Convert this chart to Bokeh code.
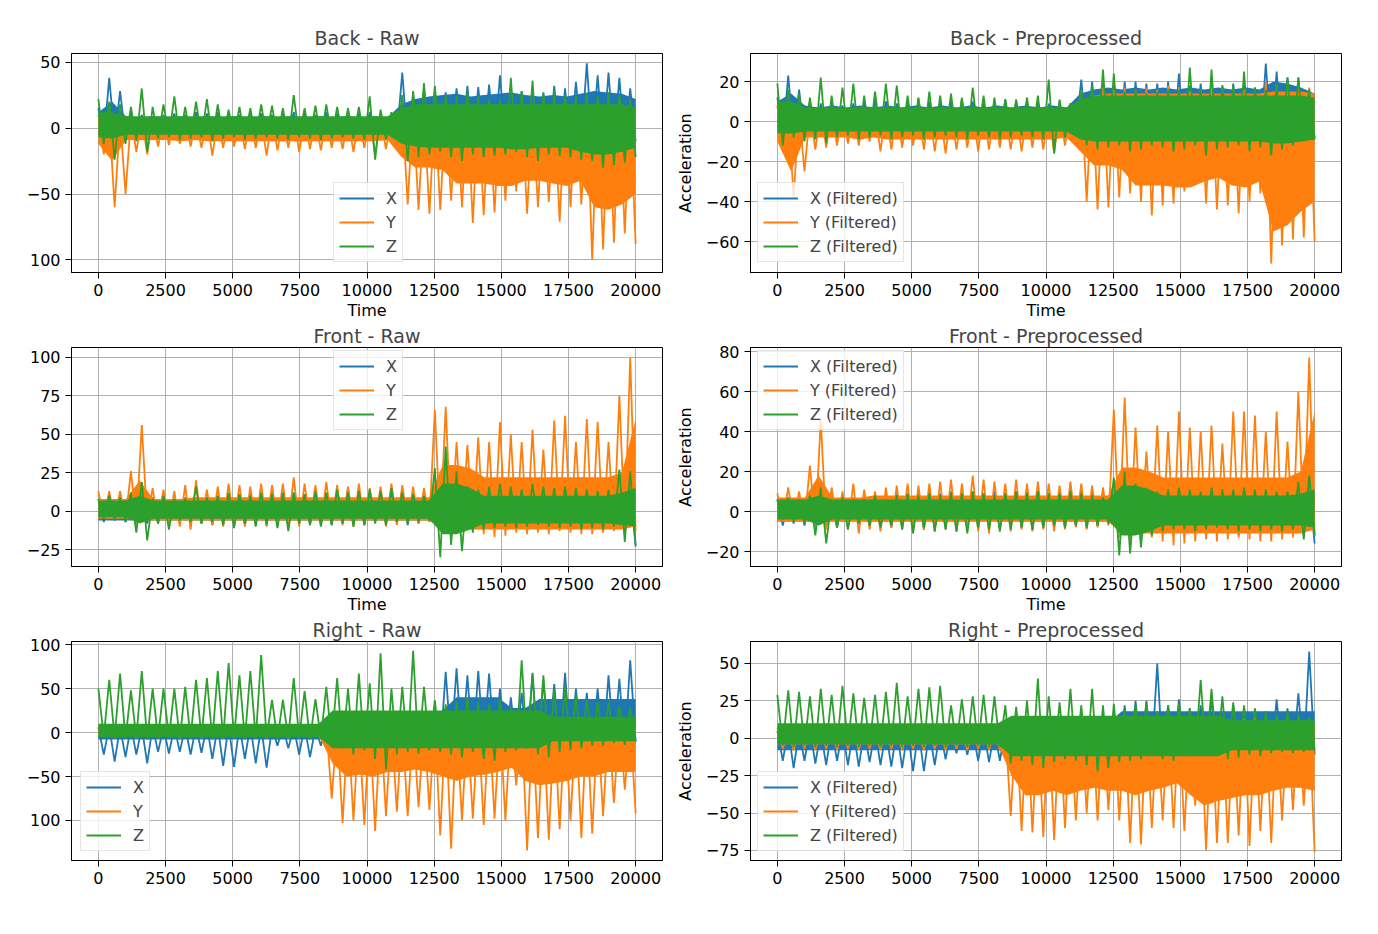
import numpy as np
from bokeh.plotting import figure
from bokeh.layouts import column, row
from bokeh.models import FixedTicker, Legend, LegendItem
from bokeh.embed import file_html
from bokeh.resources import INLINE

# sample times: 50 bins of 400 for the peaks/troughs, 40 steps for the dense core
time = np.linspace(0, 20000, 100)
core_time = np.linspace(0, 20000, 40)
time_ticks = [0, 2500, 5000, 7500, 10000, 12500, 15000, 17500, 20000]

# ---- Back - Raw ----
back_raw_x_hi = [15, 38, 28, 12, 10, 9, 10, 11, 10, 12,
                 11, 12, 11, 10, 12, 11, 10, 11, 12, 11,
                 10, 12, 11, 10, 11, 12, 11, 10, 42, 25,
                 30, 28, 27, 30, 32, 31, 33, 40, 25, 28,
                 30, 27, 32, 30, 35, 49, 40, 42, 38, 30]
back_raw_x_lo = [-10, -8, -7, -6, -7, -6, -7, -6, -7, -6,
                 -7, -6, -7, -6, -7, -6, -7, -6, -7, -6,
                 -7, -6, -7, -6, -7, -6, -7, -6, -12, -14,
                 -12, -13, -11, -12, -14, -12, -13, -11, -12, -13,
                 -12, -14, -12, -13, -11, -12, -14, -13, -12, -10]
back_raw_y_hi = [10, 8, 8, 7, 8, 7, 8, 7, 8, 7,
                 8, 7, 8, 7, 8, 7, 8, 7, 8, 7,
                 8, 7, 8, 7, 8, 7, 8, 7, 15, 16,
                 15, 14, 15, 16, 15, 16, 15, 14, 16, 15,
                 16, 15, 15, 17, 18, 20, 19, 22, 21, 17]
back_raw_y_lo = [-20, -60, -50, -18, -20, -14, -13, -12, -14, -15,
                 -21, -15, -14, -16, -15, -21, -17, -15, -18, -16,
                 -17, -15, -16, -18, -15, -20, -16, -14, -58, -62,
                 -65, -62, -55, -60, -72, -66, -64, -55, -48, -65,
                 -60, -56, -71, -60, -58, -100, -92, -87, -80, -88]
back_raw_z_hi = [22, 20, 18, 16, 30, 16, 18, 24, 16, 20,
                 22, 18, 14, 16, 15, 18, 17, 15, 25, 15,
                 17, 18, 16, 15, 16, 24, 14, 12, 25, 28,
                 34, 32, 25, 24, 27, 24, 22, 22, 38, 28,
                 36, 26, 28, 25, 24, 26, 24, 27, 25, 22]
back_raw_z_lo = [-12, -24, -12, -10, -18, -8, -7, -9, -8, -7,
                 -10, -8, -7, -9, -8, -7, -8, -9, -7, -8,
                 -9, -8, -7, -8, -9, -24, -9, -8, -25, -22,
                 -20, -18, -22, -25, -20, -22, -21, -20, -18, -22,
                 -25, -20, -21, -22, -24, -25, -30, -28, -26, -22]
back_raw_x_core_hi = [12, 20, 9, 8, 9, 8, 9, 8, 9, 8,
                      9, 8, 9, 8, 9, 8, 9, 8, 9, 8,
                      9, 8, 18, 22, 24, 25, 26, 24, 25, 26,
                      27, 25, 24, 25, 24, 26, 28, 27, 26, 22]
back_raw_x_core_lo = [-5, -6, -4, -4, -4, -4, -4, -4, -4, -4,
                      -4, -4, -4, -4, -4, -4, -4, -4, -4, -4,
                      -4, -4, -8, -10, -10, -10, -10, -10, -10, -10,
                      -10, -10, -10, -10, -10, -10, -10, -10, -10, -8]
back_raw_y_core_hi = [6, 6, 4, 4, 4, 4, 4, 4, 4, 4,
                      4, 4, 4, 4, 4, 4, 4, 4, 4, 4,
                      4, 4, 10, 12, 12, 12, 12, 12, 12, 12,
                      12, 12, 12, 12, 12, 14, 15, 15, 15, 14]
back_raw_y_core_lo = [-12, -25, -9, -9, -9, -9, -10, -9, -10, -10,
                      -10, -10, -10, -10, -10, -10, -10, -10, -10, -10,
                      -10, -9, -22, -30, -30, -32, -42, -42, -42, -44,
                      -44, -40, -40, -42, -44, -40, -60, -62, -58, -50]
back_raw_z_core_hi = [12, 12, 9, 9, 9, 9, 9, 9, 9, 9,
                      9, 9, 9, 9, 9, 9, 9, 9, 9, 9,
                      9, 9, 15, 18, 18, 18, 18, 18, 18, 18,
                      18, 18, 18, 18, 18, 18, 18, 18, 18, 16]
back_raw_z_core_lo = [-7, -8, -5, -5, -5, -5, -5, -5, -5, -5,
                      -5, -5, -5, -5, -5, -5, -5, -5, -5, -5,
                      -5, -5, -12, -14, -15, -15, -15, -15, -15, -15,
                      -16, -16, -15, -15, -15, -18, -20, -20, -18, -15]

# ---- Back - Preprocessed ----
back_pre_x_hi = [12, 23, 16, 10, 9, 10, 8, 9, 10, 11,
                 10, 9, 10, 11, 10, 9, 10, 11, 10, 9,
                 10, 11, 10, 9, 10, 9, 10, 9, 21, 20,
                 19, 18, 20, 20, 19, 19, 20, 24, 18, 19,
                 20, 18, 19, 18, 17, 29, 25, 22, 22, 16]
back_pre_x_lo = [-9, -8, -7, -6, -8, -7, -6, -7, -8, -7,
                 -6, -7, -8, -7, -6, -7, -8, -7, -6, -7,
                 -8, -7, -6, -7, -8, -12, -7, -6, -10, -11,
                 -10, -12, -11, -10, -12, -11, -10, -12, -11, -10,
                 -12, -11, -10, -12, -11, -10, -12, -11, -10, -8]
back_pre_y_hi = [8, 6, 6, 5, 6, 5, 6, 5, 6, 5,
                 6, 5, 6, 5, 6, 5, 6, 5, 6, 5,
                 6, 5, 6, 5, 6, 5, 6, 5, 15, 16,
                 17, 16, 17, 16, 17, 16, 18, 17, 15, 16,
                 17, 16, 17, 16, 15, 20, 18, 18, 19, 17]
back_pre_y_lo = [-15, -38, -25, -14, -13, -12, -11, -12, -10, -15,
                 -14, -13, -12, -14, -15, -16, -14, -13, -15, -14,
                 -13, -14, -15, -13, -14, -16, -12, -10, -40, -44,
                 -43, -38, -36, -40, -47, -42, -41, -35, -30, -41,
                 -44, -42, -46, -40, -36, -71, -62, -59, -58, -60]
back_pre_z_hi = [19, 16, 14, 12, 22, 13, 17, 19, 13, 15,
                 19, 18, 13, 12, 15, 13, 14, 12, 17, 13,
                 12, 11, 11, 12, 13, 21, 11, 9, 15, 18,
                 26, 24, 15, 16, 14, 15, 16, 16, 27, 16,
                 26, 18, 18, 25, 17, 16, 19, 22, 22, 16]
back_pre_z_lo = [-12, -8, -10, -9, -11, -8, -7, -9, -8, -7,
                 -9, -8, -7, -9, -8, -7, -8, -9, -7, -8,
                 -9, -8, -7, -8, -9, -16, -8, -7, -12, -14,
                 -13, -12, -15, -14, -12, -13, -15, -14, -12, -17,
                 -14, -13, -12, -15, -13, -17, -14, -12, -10, -9]
back_pre_x_core_hi = [10, 14, 8, 7, 8, 7, 8, 7, 8, 7,
                      8, 7, 8, 7, 8, 7, 8, 7, 8, 7,
                      8, 7, 14, 16, 17, 16, 17, 16, 17, 16,
                      17, 16, 17, 16, 17, 16, 20, 19, 17, 14]
back_pre_x_core_lo = [-5, -5, -4, -4, -4, -4, -4, -4, -4, -4,
                      -4, -4, -4, -4, -4, -4, -4, -4, -4, -4,
                      -4, -4, -7, -8, -8, -8, -8, -8, -8, -8,
                      -8, -8, -8, -8, -8, -8, -8, -8, -8, -6]
back_pre_y_core_hi = [5, 5, 4, 4, 4, 4, 4, 4, 4, 4,
                      4, 4, 4, 4, 4, 4, 4, 4, 4, 4,
                      4, 4, 10, 13, 14, 14, 14, 14, 14, 14,
                      14, 14, 14, 14, 14, 14, 15, 15, 15, 14]
back_pre_y_core_lo = [-10, -25, -8, -8, -8, -8, -9, -8, -9, -9,
                      -9, -9, -9, -9, -9, -9, -9, -9, -9, -9,
                      -9, -8, -15, -22, -22, -24, -32, -32, -32, -33,
                      -33, -30, -28, -32, -33, -30, -55, -52, -45, -40]
back_pre_z_core_hi = [10, 10, 7, 7, 7, 7, 7, 7, 7, 7,
                      7, 7, 7, 7, 7, 7, 7, 7, 7, 7,
                      7, 7, 11, 13, 13, 13, 13, 13, 13, 13,
                      13, 13, 13, 13, 13, 13, 13, 13, 13, 12]
back_pre_z_core_lo = [-6, -6, -5, -5, -5, -5, -5, -5, -5, -5,
                      -5, -5, -5, -5, -5, -5, -5, -5, -5, -5,
                      -5, -5, -9, -10, -10, -10, -10, -10, -10, -10,
                      -10, -10, -10, -10, -10, -10, -11, -11, -10, -9]

# ---- Front - Raw ----
front_raw_x_hi = [8, 8, 7, 9, 8, 9, 10, 8, 9, 8,
                  9, 10, 9, 10, 11, 10, 12, 11, 12, 11,
                  13, 12, 14, 15, 13, 12, 13, 12, 11, 10,
                  9, 14, 15, 14, 13, 12, 13, 14, 13, 12,
                  13, 12, 13, 12, 13, 12, 13, 12, 14, 15]
front_raw_x_lo = [-7, -6, -7, -6, -8, -8, -7, -6, -7, -8,
                  -9, -8, -9, -9, -8, -8, -9, -8, -8, -9,
                  -8, -9, -8, -8, -9, -7, -8, -8, -9, -8,
                  -7, -10, -12, -13, -12, -10, -11, -12, -10, -9,
                  -11, -12, -10, -11, -12, -10, -11, -12, -13, -23]
front_raw_y_hi = [13, 13, 13, 26, 56, 15, 14, 13, 17, 20,
                  14, 16, 18, 17, 16, 18, 17, 18, 22, 18,
                  17, 19, 17, 16, 18, 15, 16, 18, 17, 16,
                  15, 66, 68, 45, 43, 48, 45, 58, 50, 45,
                  53, 40, 59, 62, 45, 60, 58, 45, 75, 100]
front_raw_y_lo = [-5, -5, -6, -8, -6, -7, -8, -10, -12, -8,
                  -9, -10, -9, -10, -9, -10, -8, -9, -10, -8,
                  -9, -8, -9, -10, -9, -8, -10, -9, -8, -8,
                  -7, -12, -14, -13, -12, -15, -17, -16, -14, -15,
                  -14, -15, -13, -14, -15, -15, -14, -13, -12, -13]
front_raw_z_hi = [8, 10, 9, 12, 19, 8, 10, 8, 8, 16,
                  9, 10, 12, 11, 10, 12, 11, 12, 12, 11,
                  13, 12, 14, 12, 13, 14, 13, 15, 12, 11,
                  10, 28, 42, 26, 16, 14, 16, 18, 16, 14,
                  18, 16, 15, 16, 15, 14, 13, 14, 27, 26]
front_raw_z_lo = [-5, -6, -7, -14, -19, -8, -12, -6, -7, -8,
                  -7, -9, -11, -8, -10, -9, -11, -13, -8, -9,
                  -10, -9, -8, -10, -9, -8, -9, -7, -8, -7,
                  -6, -30, -22, -26, -14, -12, -11, -10, -11, -10,
                  -9, -10, -11, -10, -12, -11, -12, -10, -20, -22]
front_raw_x_core_hi = [5, 5, 5, 5, 5, 5, 5, 5, 5, 5,
                       5, 5, 5, 5, 5, 5, 5, 5, 5, 5,
                       5, 5, 5, 5, 5, 9, 9, 9, 9, 9,
                       9, 9, 9, 9, 9, 9, 9, 9, 9, 9]
front_raw_x_core_lo = [-6, -6, -6, -6, -6, -6, -6, -6, -6, -6,
                       -6, -6, -6, -6, -6, -6, -6, -6, -6, -6,
                       -6, -6, -6, -6, -6, -9, -9, -9, -9, -9,
                       -9, -9, -9, -9, -9, -9, -9, -9, -9, -9]
front_raw_y_core_hi = [8, 8, 8, 20, 8, 8, 8, 9, 9, 9,
                       9, 9, 9, 9, 9, 9, 9, 9, 9, 9,
                       9, 9, 9, 9, 9, 30, 30, 28, 22, 22,
                       22, 22, 22, 22, 22, 22, 22, 22, 25, 60]
front_raw_y_core_lo = [-5, -5, -5, -6, -6, -6, -6, -6, -6, -6,
                       -6, -6, -6, -6, -6, -6, -6, -6, -6, -6,
                       -6, -6, -6, -6, -6, -12, -12, -12, -12, -12,
                       -12, -12, -12, -12, -12, -12, -12, -12, -12, -10]
front_raw_z_core_hi = [7, 7, 7, 10, 7, 7, 7, 7, 7, 7,
                       7, 7, 7, 7, 7, 7, 7, 7, 7, 7,
                       7, 7, 7, 7, 7, 18, 18, 15, 10, 10,
                       10, 10, 10, 10, 10, 10, 10, 10, 12, 15]
front_raw_z_core_lo = [-4, -4, -4, -8, -5, -5, -5, -5, -5, -5,
                       -5, -5, -5, -5, -5, -5, -5, -5, -5, -5,
                       -5, -5, -5, -5, -5, -15, -15, -12, -8, -8,
                       -8, -8, -8, -8, -8, -8, -8, -8, -9, -10]

# ---- Front - Preprocessed ----
front_pre_x_hi = [6, 6, 5, 7, 6, 7, 8, 7, 8, 7,
                  8, 9, 8, 9, 10, 9, 10, 9, 10, 9,
                  10, 9, 10, 11, 10, 9, 10, 11, 10, 9,
                  8, 10, 11, 12, 11, 10, 11, 12, 11, 10,
                  11, 12, 11, 10, 11, 12, 11, 10, 11, 12]
front_pre_x_lo = [-7, -6, -7, -6, -7, -8, -7, -6, -7, -8,
                  -8, -7, -8, -9, -8, -7, -8, -9, -8, -7,
                  -8, -7, -8, -9, -8, -7, -8, -7, -8, -7,
                  -6, -10, -12, -11, -10, -11, -12, -10, -11, -12,
                  -10, -11, -12, -10, -11, -12, -10, -11, -12, -16]
front_pre_y_hi = [9, 12, 10, 23, 46, 12, 10, 14, 11, 10,
                  12, 13, 14, 13, 14, 15, 16, 14, 18, 16,
                  15, 14, 16, 14, 15, 14, 13, 15, 14, 13,
                  12, 51, 57, 42, 30, 43, 40, 50, 42, 40,
                  43, 34, 50, 50, 48, 40, 50, 35, 60, 77]
front_pre_y_lo = [-5, -5, -6, -8, -9, -7, -8, -11, -9, -10,
                  -8, -9, -10, -9, -10, -9, -10, -9, -10, -11,
                  -9, -10, -9, -10, -9, -10, -9, -8, -9, -8,
                  -7, -13, -14, -12, -13, -15, -17, -16, -15, -14,
                  -15, -14, -13, -14, -15, -15, -14, -13, -11, -12]
front_pre_z_hi = [6, 7, 6, 8, 12, 6, 7, 6, 6, 8,
                  6, 8, 9, 8, 9, 8, 9, 9, 10, 9,
                  8, 9, 10, 9, 10, 9, 9, 10, 9, 8,
                  7, 17, 20, 14, 12, 10, 11, 12, 11, 10,
                  12, 11, 11, 12, 11, 11, 10, 10, 15, 18]
front_pre_z_lo = [-4, -5, -6, -12, -16, -8, -9, -6, -7, -8,
                  -7, -9, -11, -8, -10, -9, -10, -11, -8, -9,
                  -10, -9, -8, -9, -8, -7, -8, -7, -8, -7,
                  -6, -22, -21, -18, -12, -10, -9, -9, -10, -9,
                  -8, -9, -10, -9, -10, -9, -10, -9, -14, -12]
front_pre_x_core_hi = [5, 5, 5, 5, 5, 5, 5, 5, 5, 5,
                       5, 5, 5, 5, 5, 5, 5, 5, 5, 5,
                       5, 5, 5, 5, 5, 8, 8, 8, 8, 8,
                       8, 8, 8, 8, 8, 8, 8, 8, 8, 8]
front_pre_x_core_lo = [-5, -5, -5, -5, -5, -5, -5, -5, -5, -5,
                       -5, -5, -5, -5, -5, -5, -5, -5, -5, -5,
                       -5, -5, -5, -5, -5, -8, -8, -8, -8, -8,
                       -8, -8, -8, -8, -8, -8, -8, -8, -8, -8]
front_pre_y_core_hi = [7, 7, 7, 18, 7, 7, 7, 8, 8, 8,
                       8, 8, 8, 8, 8, 8, 8, 8, 8, 8,
                       8, 8, 8, 8, 8, 22, 22, 20, 17, 17,
                       17, 17, 17, 17, 17, 17, 17, 17, 20, 50]
front_pre_y_core_lo = [-5, -5, -5, -5, -5, -5, -5, -5, -5, -5,
                       -5, -5, -5, -5, -5, -5, -5, -5, -5, -5,
                       -5, -5, -5, -5, -5, -11, -11, -11, -11, -11,
                       -11, -11, -11, -11, -11, -11, -11, -11, -11, -9]
front_pre_z_core_hi = [6, 6, 6, 8, 6, 6, 6, 6, 6, 6,
                       6, 6, 6, 6, 6, 6, 6, 6, 6, 6,
                       6, 6, 6, 6, 6, 13, 13, 11, 8, 8,
                       8, 8, 8, 8, 8, 8, 8, 8, 9, 11]
front_pre_z_core_lo = [-4, -4, -4, -7, -4, -4, -4, -4, -4, -4,
                       -4, -4, -4, -4, -4, -4, -4, -4, -4, -4,
                       -4, -4, -4, -4, -4, -12, -12, -10, -7, -7,
                       -7, -7, -7, -7, -7, -7, -7, -7, -7, -8]

# ---- Right - Raw ----
right_raw_x_hi = [6, 7, 6, 7, 6, 7, 6, 7, 6, 7,
                  8, 7, 8, 7, 8, 7, 6, 7, 6, 7,
                  6, 8, 18, 20, 22, 20, 18, 20, 22, 20,
                  22, 25, 69, 73, 65, 70, 67, 50, 40, 45,
                  68, 60, 55, 68, 50, 45, 50, 65, 61, 82]
right_raw_x_lo = [-25, -33, -28, -25, -35, -22, -24, -22, -25, -23,
                  -30, -38, -39, -30, -35, -40, -15, -18, -25, -28,
                  -15, -10, -15, -18, -20, -18, -15, -18, -20, -15,
                  -18, -20, -15, -18, -20, -15, -18, -20, -15, -18,
                  -20, -15, -18, -20, -15, -18, -20, -15, -18, -10]
right_raw_y_hi = [6, 5, 6, 5, 6, 5, 6, 5, 6, 5,
                  6, 5, 6, 5, 6, 5, 6, 5, 6, 5,
                  6, 8, 10, 12, 11, 12, 13, 12, 11, 12,
                  13, 12, 14, 13, 12, 14, 15, 14, 13, 15,
                  14, 13, 15, 14, 13, 15, 14, 13, 15, 12]
right_raw_y_lo = [-5, -6, -5, -6, -5, -6, -5, -6, -5, -6,
                  -5, -6, -5, -6, -5, -6, -5, -6, -5, -6,
                  -8, -75, -103, -100, -105, -112, -95, -90, -95, -85,
                  -88, -117, -132, -100, -98, -105, -98, -100, -60, -134,
                  -120, -122, -110, -100, -120, -115, -95, -80, -65, -92]
right_raw_z_hi = [50, 60, 67, 48, 70, 50, 50, 50, 52, 60,
                  62, 70, 79, 65, 70, 88, 37, 37, 62, 47,
                  38, 52, 62, 50, 67, 56, 90, 50, 52, 93,
                  52, 37, 32, 35, 40, 35, 32, 38, 28, 82,
                  66, 65, 48, 53, 42, 38, 35, 35, 30, 28]
right_raw_z_lo = [-5, -6, -7, -6, -8, -7, -6, -8, -7, -6,
                  -8, -7, -6, -8, -7, -6, -8, -7, -6, -8,
                  -7, -12, -18, -25, -20, -30, -42, -25, -22, -24,
                  -20, -22, -25, -28, -22, -30, -32, -22, -20, -18,
                  -25, -28, -22, -20, -18, -15, -15, -12, -14, -10]
right_raw_x_core_hi = [4, 4, 4, 4, 4, 4, 4, 4, 4, 4,
                       4, 4, 4, 4, 4, 4, 4, 12, 20, 20,
                       20, 20, 20, 20, 20, 25, 40, 40, 40, 40,
                       28, 28, 38, 38, 38, 38, 38, 38, 38, 38]
right_raw_x_core_lo = [-8, -8, -8, -8, -8, -8, -8, -8, -8, -8,
                       -8, -8, -8, -8, -8, -8, -8, -12, -12, -12,
                       -12, -12, -12, -12, -12, -12, -12, -12, -12, -12,
                       -12, -12, -12, -12, -12, -12, -12, -12, -12, -12]
right_raw_y_core_hi = [4, 4, 4, 4, 4, 4, 4, 4, 4, 4,
                       4, 4, 4, 4, 4, 4, 4, 10, 10, 10,
                       10, 10, 10, 10, 10, 10, 10, 10, 10, 10,
                       10, 10, 10, 10, 10, 10, 10, 10, 10, 10]
right_raw_y_core_lo = [-4, -4, -4, -4, -4, -4, -4, -4, -4, -4,
                       -4, -4, -4, -4, -4, -4, -4, -35, -50, -48,
                       -50, -45, -45, -42, -45, -50, -55, -50, -48, -45,
                       -40, -55, -60, -58, -55, -50, -50, -45, -45, -45]
right_raw_z_core_hi = [10, 10, 10, 10, 10, 10, 10, 10, 10, 10,
                       10, 10, 10, 10, 10, 10, 10, 25, 25, 25,
                       25, 25, 25, 25, 25, 25, 25, 25, 25, 25,
                       25, 25, 25, 18, 18, 18, 18, 18, 18, 18]
right_raw_z_core_lo = [-5, -5, -5, -5, -5, -5, -5, -5, -5, -5,
                       -5, -5, -5, -5, -5, -5, -5, -18, -18, -18,
                       -18, -18, -18, -18, -18, -18, -18, -18, -18, -18,
                       -18, -18, -18, -10, -10, -10, -10, -10, -10, -10]

# ---- Right - Preprocessed ----
right_pre_x_hi = [5, 6, 5, 6, 5, 6, 5, 6, 5, 6,
                  5, 6, 5, 6, 5, 6, 5, 6, 5, 6,
                  5, 6, 10, 12, 11, 12, 10, 12, 11, 12,
                  13, 12, 22, 25, 25, 50, 22, 26, 20, 22,
                  27, 18, 22, 18, 16, 18, 26, 20, 30, 58]
right_pre_x_lo = [-15, -20, -15, -17, -18, -15, -18, -19, -16, -18,
                  -19, -20, -22, -22, -18, -14, -10, -11, -15, -16,
                  -15, -13, -12, -14, -12, -14, -12, -14, -12, -14,
                  -12, -14, -12, -14, -12, -14, -12, -14, -12, -14,
                  -12, -14, -12, -14, -12, -14, -12, -14, -12, -11]
right_pre_y_hi = [7, 6, 7, 6, 7, 6, 7, 6, 7, 6,
                  7, 6, 7, 6, 7, 6, 7, 6, 7, 6,
                  7, 8, 12, 13, 12, 13, 12, 13, 12, 13,
                  12, 13, 12, 13, 12, 13, 14, 13, 12, 13,
                  14, 13, 12, 13, 14, 13, 12, 13, 14, 13]
right_pre_y_lo = [-7, -8, -7, -8, -7, -8, -7, -8, -7, -8,
                  -7, -8, -7, -8, -7, -8, -7, -8, -7, -8,
                  -8, -52, -62, -63, -66, -68, -60, -55, -50, -55,
                  -48, -55, -70, -71, -60, -55, -60, -62, -45, -75,
                  -70, -70, -65, -72, -62, -70, -55, -48, -45, -76]
right_pre_z_hi = [29, 32, 31, 28, 33, 29, 35, 30, 27, 29,
                  31, 37, 28, 33, 34, 35, 22, 26, 28, 29,
                  28, 22, 21, 25, 40, 28, 24, 33, 22, 33,
                  22, 23, 20, 22, 24, 18, 22, 23, 20, 39,
                  33, 28, 24, 22, 20, 18, 16, 18, 16, 14]
right_pre_z_lo = [-5, -6, -5, -6, -5, -6, -5, -6, -5, -6,
                  -5, -6, -5, -6, -5, -6, -5, -6, -5, -6,
                  -6, -17, -15, -18, -20, -16, -14, -15, -18, -22,
                  -20, -16, -15, -14, -12, -14, -15, -12, -11, -10,
                  -12, -14, -13, -11, -12, -10, -9, -10, -9, -8]
right_pre_x_core_hi = [3, 3, 3, 3, 3, 3, 3, 3, 3, 3,
                       3, 3, 3, 3, 3, 3, 3, 10, 10, 10,
                       10, 10, 10, 10, 10, 18, 18, 18, 18, 18,
                       18, 18, 18, 18, 18, 18, 18, 18, 18, 18]
right_pre_x_core_lo = [-8, -8, -8, -8, -8, -8, -8, -8, -8, -8,
                       -8, -8, -8, -8, -8, -8, -8, -10, -10, -10,
                       -10, -10, -10, -10, -10, -10, -10, -10, -10, -10,
                       -10, -10, -10, -10, -10, -10, -10, -10, -10, -10]
right_pre_y_core_hi = [4, 4, 4, 4, 4, 4, 4, 4, 4, 4,
                       4, 4, 4, 4, 4, 4, 4, 10, 10, 10,
                       10, 10, 10, 10, 10, 10, 10, 10, 10, 10,
                       10, 10, 10, 10, 10, 10, 10, 10, 10, 10]
right_pre_y_core_lo = [-4, -4, -4, -4, -4, -4, -4, -4, -4, -4,
                       -4, -4, -4, -4, -4, -4, -4, -25, -38, -38,
                       -35, -38, -35, -33, -35, -35, -38, -35, -33, -30,
                       -38, -45, -42, -40, -38, -38, -35, -33, -33, -35]
right_pre_z_core_hi = [10, 10, 10, 10, 10, 10, 10, 10, 10, 10,
                       10, 10, 10, 10, 10, 10, 10, 15, 15, 15,
                       15, 15, 15, 15, 15, 15, 15, 15, 15, 15,
                       15, 15, 15, 12, 12, 12, 12, 12, 12, 12]
right_pre_z_core_lo = [-4, -4, -4, -4, -4, -4, -4, -4, -4, -4,
                       -4, -4, -4, -4, -4, -4, -4, -12, -12, -12,
                       -12, -12, -12, -12, -12, -12, -12, -12, -12, -12,
                       -12, -12, -12, -8, -8, -8, -8, -8, -8, -8]

raw_labels = ["X", "Y", "Z"]
pre_labels = ["X (Filtered)", "Y (Filtered)", "Z (Filtered)"]
COLORS = ["#1f77b4", "#ff7f0e", "#2ca02c"]
FONT = "DejaVu Sans"


def zigzag(hi, lo):
    y = np.empty(2 * len(hi))
    y[0::2] = hi
    y[1::2] = lo
    return y


def tick_text(v):
    return ("\u2212%d" % -v) if v < 0 else "%d" % v


def panel(title, series, labels, y_ticks, y_range, legend_xy,
          left, right, top, bottom, title_gap,
          xlabel=None, ylabel=None, overrides=None):
    p = figure(frame_width=591, frame_height=219,
               x_range=(-1000, 21000), y_range=y_range,
               output_backend="svg", toolbar_location=None,
               min_border_left=left, min_border_right=right,
               min_border_top=top, min_border_bottom=bottom)
    p.background_fill_color = "white"
    p.outline_line_color = "black"
    p.outline_line_width = 1
    p.outline_line_alpha = 1

    p.title.text = title
    p.title.align = "center"
    p.title.text_font = FONT
    p.title.text_font_size = "19px"
    p.title.text_font_style = "normal"
    p.title.standoff = title_gap

    rends = []
    for (hi, lo, core_hi, core_lo), color in zip(series, COLORS):
        p.varea(x=core_time, y1=core_lo, y2=core_hi, fill_color=color)
        rends.append(p.line(time, zigzag(hi, lo), line_color=color, line_width=1.8))

    p.xaxis.ticker = FixedTicker(ticks=time_ticks)
    p.yaxis.ticker = FixedTicker(ticks=y_ticks)
    p.xaxis.major_label_overrides = {t: tick_text(t) for t in time_ticks}
    ylabels = {t: tick_text(t) for t in y_ticks}
    if overrides:
        ylabels.update(overrides)
    p.yaxis.major_label_overrides = ylabels

    for ax in (p.xaxis[0], p.yaxis[0]):
        ax.major_label_text_font = FONT
        ax.major_label_text_font_size = "16px"
        ax.major_label_text_color = "black"
        ax.major_label_standoff = 5
        ax.axis_line_color = "black"
        ax.major_tick_line_color = "black"
        ax.major_tick_out = 6
        ax.major_tick_in = 0
        ax.minor_tick_line_color = None
        ax.axis_label_text_font = FONT
        ax.axis_label_text_font_size = "16px"
        ax.axis_label_text_font_style = "normal"
        ax.axis_label_text_color = "black"
    if xlabel:
        p.xaxis.axis_label = xlabel
        p.xaxis.axis_label_standoff = 2
    if ylabel:
        p.yaxis.axis_label = ylabel
        p.yaxis.axis_label_standoff = 8

    p.xgrid.grid_line_color = "#b0b0b0"
    p.ygrid.grid_line_color = "#b0b0b0"
    p.xgrid.grid_line_width = 1
    p.ygrid.grid_line_width = 1

    items = [LegendItem(label=l, renderers=[r]) for l, r in zip(labels, rends)]
    leg = Legend(items=items, location=legend_xy, margin=0, padding=5,
                 spacing=4, label_height=20, label_width=10, glyph_height=20,
                 glyph_width=35, label_standoff=12, label_text_font=FONT,
                 label_text_font_size="16px", border_line_color="#cccccc",
                 border_line_width=1, background_fill_alpha=0.8)
    p.add_layout(leg)
    return p


p1 = panel("Back - Raw",
           [(back_raw_x_hi, back_raw_x_lo, back_raw_x_core_hi, back_raw_x_core_lo),
            (back_raw_y_hi, back_raw_y_lo, back_raw_y_core_hi, back_raw_y_core_lo),
            (back_raw_z_hi, back_raw_z_lo, back_raw_z_core_hi, back_raw_z_core_lo)],
           raw_labels, [50, 0, -50, -100], (-109.5, 56.5), (262, 10),
           71, 10, 53, 50, 9, xlabel="Time", overrides={-100: "100"})
p2 = panel("Back - Preprocessed",
           [(back_pre_x_hi, back_pre_x_lo, back_pre_x_core_hi, back_pre_x_core_lo),
            (back_pre_y_hi, back_pre_y_lo, back_pre_y_core_hi, back_pre_y_core_lo),
            (back_pre_z_hi, back_pre_z_lo, back_pre_z_core_hi, back_pre_z_core_lo)],
           pre_labels, [20, 0, -20, -40, -60], (-75.5, 34), (7, 10),
           78, 20, 53, 50, 9, xlabel="Time", ylabel="Acceleration")
p3 = panel("Front - Raw",
           [(front_raw_x_hi, front_raw_x_lo, front_raw_x_core_hi, front_raw_x_core_lo),
            (front_raw_y_hi, front_raw_y_lo, front_raw_y_core_hi, front_raw_y_core_lo),
            (front_raw_z_hi, front_raw_z_lo, front_raw_z_core_hi, front_raw_z_core_lo)],
           raw_labels, [100, 75, 50, 25, 0, -25], (-36, 106.5), (262, 136),
           71, 10, 10, 50, 1, xlabel="Time")
p4 = panel("Front - Preprocessed",
           [(front_pre_x_hi, front_pre_x_lo, front_pre_x_core_hi, front_pre_x_core_lo),
            (front_pre_y_hi, front_pre_y_lo, front_pre_y_core_hi, front_pre_y_core_lo),
            (front_pre_z_hi, front_pre_z_lo, front_pre_z_core_hi, front_pre_z_core_lo)],
           pre_labels, [80, 60, 40, 20, 0, -20], (-27.5, 82), (7, 136),
           78, 20, 10, 50, 1, xlabel="Time", ylabel="Acceleration")
p5 = panel("Right - Raw",
           [(right_raw_x_hi, right_raw_x_lo, right_raw_x_core_hi, right_raw_x_core_lo),
            (right_raw_y_hi, right_raw_y_lo, right_raw_y_core_hi, right_raw_y_core_lo),
            (right_raw_z_hi, right_raw_z_lo, right_raw_z_core_hi, right_raw_z_core_lo)],
           raw_labels, [100, 50, 0, -50, -100], (-145.5, 103.5), (9, 9),
           71, 10, 10, 40, 1, overrides={-100: "100"})
p6 = panel("Right - Preprocessed",
           [(right_pre_x_hi, right_pre_x_lo, right_pre_x_core_hi, right_pre_x_core_lo),
            (right_pre_y_hi, right_pre_y_lo, right_pre_y_core_hi, right_pre_y_core_lo),
            (right_pre_z_hi, right_pre_z_lo, right_pre_z_core_hi, right_pre_z_core_lo)],
           pre_labels, [50, 25, 0, -25, -50, -75], (-81.7, 64.7), (7, 9),
           78, 20, 10, 40, 1, ylabel="Acceleration")

layout = column(row(p1, p2), row(p3, p4), row(p5, p6))

open("out.html", "w").write(file_html(layout, INLINE))
